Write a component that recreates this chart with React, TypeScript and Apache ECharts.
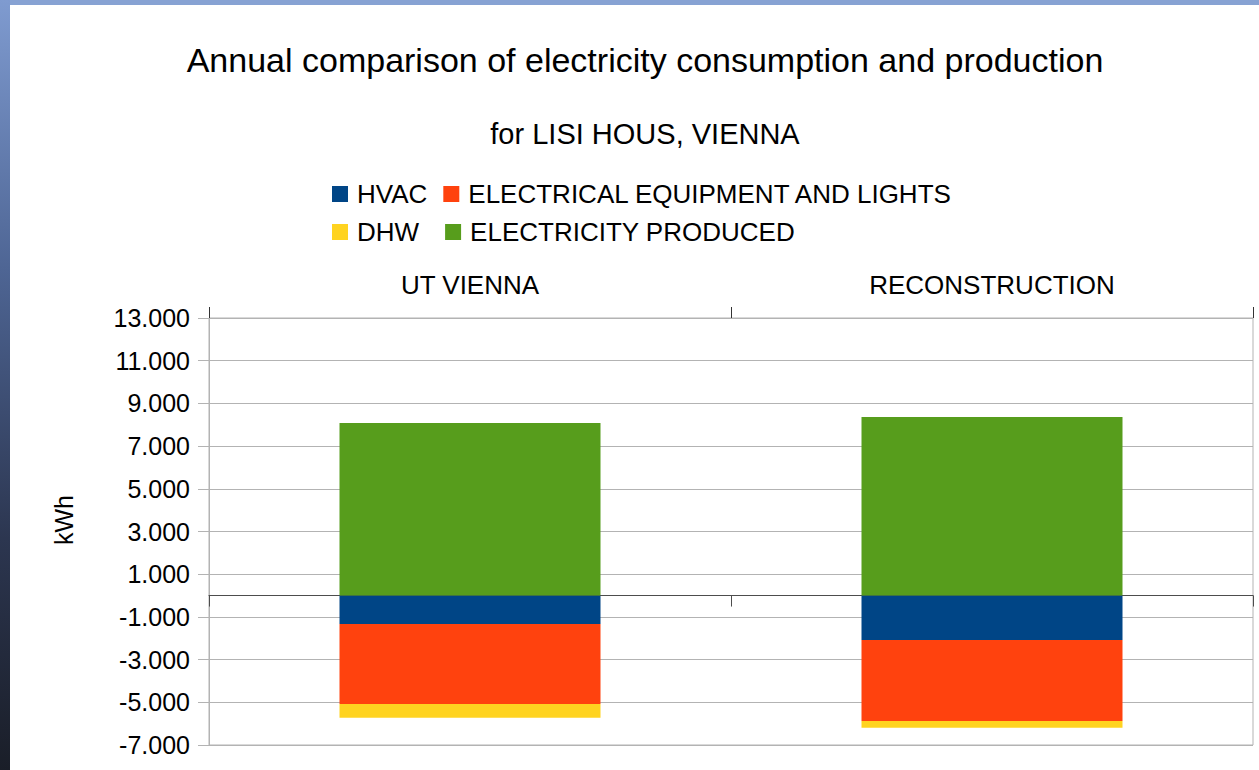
import React, { useEffect, useRef } from 'react';
import * as echarts from 'echarts';

const categories = ['UT VIENNA', 'RECONSTRUCTION'];
const seriesNames = ['HVAC', 'ELECTRICAL EQUIPMENT AND LIGHTS', 'DHW', 'ELECTRICITY PRODUCED'];
const hvac = [-1335, -2085];
const electrical = [-3750, -3795];
const dhw = [-640, -315];
const produced = [8080, 8360];
const yTicks = [-7000, -5000, -3000, -1000, 1000, 3000, 5000, 7000, 9000, 11000, 13000];
const colors = ['#004586', '#ff420e', '#ffd320', '#579d1c'];

const FONT = 'Liberation Sans, Arial, sans-serif';

function fmt(v: number): string {
  const s = Math.abs(v).toString().replace(/\B(?=(\d{3})+(?!\d))/g, '.');
  return (v < 0 ? '-' : '') + s;
}

export default function App() {
  const ref = useRef<HTMLDivElement>(null);
  useEffect(() => {
    if (!ref.current) return;
    const chart = echarts.init(ref.current, undefined, { renderer: 'svg' });
    const values = [hvac, electrical, dhw, produced];
    chart.setOption({
      animation: false,
      backgroundColor: '#ffffff',
      textStyle: { fontFamily: FONT },
      color: colors,
      graphic: [
        { type: 'rect', shape: { x: 0, y: 0, width: 1259, height: 5 }, style: { fill: '#87a2d3' }, silent: true },
        {
          type: 'rect', shape: { x: 0, y: 0, width: 10, height: 770 }, silent: true,
          style: {
            fill: {
              type: 'linear', x: 0, y: 0, x2: 0, y2: 1,
              colorStops: [
                { offset: 0, color: '#7f9bd0' },
                { offset: 0.35, color: '#4e6594' },
                { offset: 0.7, color: '#2c3650' },
                { offset: 1, color: '#1a1e28' },
              ],
            },
          },
        },
        { type: 'text', x: 645, y: 60, style: { text: 'Annual comparison of electricity consumption and production', fontSize: 34, fontFamily: FONT, fill: '#000', textAlign: 'center', textVerticalAlign: 'middle' } },
        { type: 'text', x: 645, y: 134, style: { text: 'for LISI HOUS, VIENNA', fontSize: 29, fontFamily: FONT, fill: '#000', textAlign: 'center', textVerticalAlign: 'middle' } },
        { type: 'text', x: 64, y: 520, rotation: Math.PI / 2, style: { text: 'kWh', fontSize: 25, fontFamily: FONT, fill: '#000', textAlign: 'center', textVerticalAlign: 'middle' } },
      ],
      legend: [
        {
          data: seriesNames.slice(0, 2), left: 332, top: 181, padding: 0, itemGap: 16,
          itemWidth: 16, itemHeight: 16, icon: 'rect',
          textStyle: { fontSize: 26, color: '#000', fontFamily: FONT, padding: [0, 0, 0, 4] },
        },
        {
          data: seriesNames.slice(2, 4), left: 332, top: 219, padding: 0, itemGap: 26,
          itemWidth: 16, itemHeight: 16, icon: 'rect',
          textStyle: { fontSize: 26, color: '#000', fontFamily: FONT, padding: [0, 0, 0, 4] },
        },
      ],
      grid: { left: 209, right: 6, top: 318, bottom: 25, show: true, borderColor: '#b3b3b3', borderWidth: 1, containLabel: false },
      xAxis: [
        {
          type: 'category', data: categories, position: 'top',
          axisLine: { show: false, onZero: false },
          axisTick: { show: true, length: 11, lineStyle: { color: '#333' } },
          axisLabel: { fontSize: 26, color: '#000', margin: 20, fontFamily: FONT },
          splitLine: { show: false },
        },
        {
          type: 'category', data: categories, position: 'bottom',
          axisLine: { show: true, onZero: true, lineStyle: { color: '#4d4d4d', width: 1 } },
          axisTick: { show: true, length: 11, lineStyle: { color: '#4d4d4d' } },
          axisLabel: { show: false },
          splitLine: { show: false },
        },
      ],
      yAxis: {
        type: 'value', min: -7000, max: 13000,
        axisLine: { show: true, lineStyle: { color: '#b3b3b3' } },
        axisTick: { show: true, length: 11, customValues: yTicks, lineStyle: { color: '#b3b3b3' } },
        axisLabel: { customValues: yTicks, formatter: fmt, fontSize: 25, color: '#000', margin: 19, fontFamily: FONT },
        splitLine: { show: true, lineStyle: { color: '#b3b3b3', width: 1 } },
      },
      series: seriesNames.map((name, i) => ({
        name, type: 'bar', stack: 'total', xAxisIndex: 0, barWidth: '50%',
        data: values[i], itemStyle: { color: colors[i] },
      })),
    });
    return () => chart.dispose();
  }, []);
  return <div ref={ref} style={{ position: 'fixed', left: 0, top: 0, width: 1259, height: 770 }} />;
}
